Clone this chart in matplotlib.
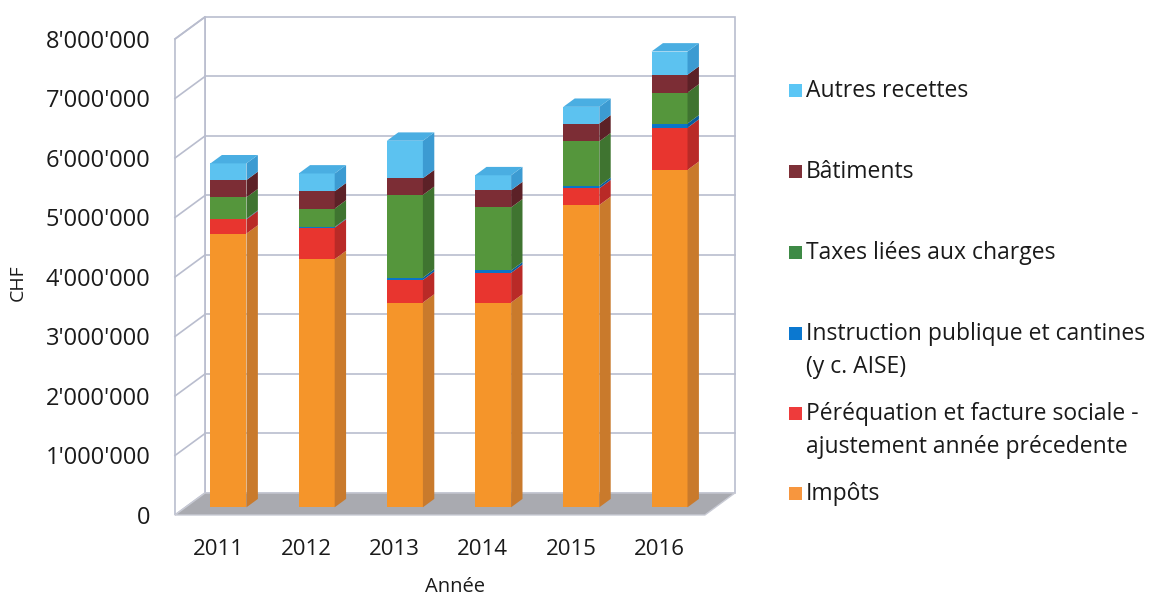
import numpy as np
import matplotlib
matplotlib.use('Agg')
import matplotlib.pyplot as plt
from matplotlib.patches import Polygon, Rectangle

plt.rcParams['font.family'] = ['Open Sans', 'DejaVu Sans']

years = ['2011', '2012', '2013', '2014', '2015', '2016']
series = ['Impôts',
          'Péréquation et facture sociale -\najustement année précedente',
          'Instruction publique et cantines\n(y c. AISE)',
          'Taxes liées aux charges',
          'Bâtiments',
          'Autres recettes']
impots = [4600000, 4170000, 3440000, 3440000, 5080000, 5670000]
perequation = [240000, 530000, 380000, 500000, 280000, 710000]
instruction = [10000, 10000, 40000, 40000, 40000, 70000]
taxes = [360000, 310000, 1390000, 1060000, 750000, 520000]
batiments = [290000, 290000, 280000, 290000, 300000, 300000]
autres = [280000, 300000, 630000, 250000, 280000, 390000]
yticks = [0, 1000000, 2000000, 3000000, 4000000, 5000000, 6000000, 7000000, 8000000]

# front / side / top colours per series
front_cols = ['#F5952A', '#E8352F', '#0A74C8', '#55963C', '#7C2D35', '#5CC2F0']
side_cols = ['#C97A2C', '#B92A27', '#085C9E', '#3F7430', '#5C2127', '#3C9BD2']
top_cols = ['#F8A850', '#EE5A50', '#3590D8', '#6CA855', '#934049', '#4AAEE2']
legend_cols = ['#F7963E', '#EE3B3B', '#0B78D0', '#3E8A46', '#7E3038', '#5BC6F5']

data = np.array([impots, perequation, instruction, taxes, batiments, autres])

# fake 3d: depth vector (categories, CHF) for full depth of the box
DX = 0.34
DY = 370000
x_left = -0.4875
x_right = 5.52
y_top = 8000000
d0, d1 = 0.35, 0.73
half_w = 0.204
wall_col = '#B9BDCE'

fig = plt.figure(figsize=(11.53, 5.96), dpi=100)
ax = fig.add_axes([170 / 1153, 76 / 596, 570 / 1153, 510 / 596])
ax.set_xlim(-0.544, 5.918)
ax.set_ylim(-84000, 8487000)
for s in ax.spines.values():
    s.set_visible(False)


def P(x, v, d):
    return (x + d * DX, v + d * DY)


# walls
back = [P(x_left, 0, 1), P(x_right, 0, 1), P(x_right, y_top, 1), P(x_left, y_top, 1)]
ax.add_patch(Polygon(back, closed=True, fc='white', ec=wall_col, lw=1.2, zorder=1))
left = [P(x_left, 0, 0), P(x_left, 0, 1), P(x_left, y_top, 1), P(x_left, y_top, 0)]
ax.add_patch(Polygon(left, closed=True, fc='white', ec=wall_col, lw=1.2, zorder=1))
for v in yticks[1:-1]:
    a, b = P(x_left, v, 1), P(x_right, v, 1)
    ax.plot([a[0], b[0]], [a[1], b[1]], color=wall_col, lw=1.2, zorder=1.5)
for v in yticks[1:]:
    a, b = P(x_left, v, 0), P(x_left, v, 1)
    ax.plot([a[0], b[0]], [a[1], b[1]], color=wall_col, lw=1.2, zorder=1.5)

# floor
floor = [P(x_left, 0, 0), P(x_right, 0, 0), P(x_right, 0, 1), P(x_left, 0, 1)]
ax.add_patch(Polygon(floor, closed=True, fc='#A9AAB0', ec='#C8CAD4', lw=1.0, zorder=2))

# bars
xs = np.arange(len(years))
bottoms = np.zeros(len(years))
for k in range(len(series)):
    vals = data[k]
    fx = xs + d0 * DX
    ax.bar(fx, vals, width=2 * half_w, bottom=bottoms + d0 * DY,
           color=front_cols[k], edgecolor='none', zorder=4)
    for i in range(len(years)):
        b0, b1 = bottoms[i], bottoms[i] + vals[i]
        xr = xs[i] + half_w
        side = [P(xr, b0, d0), P(xr, b0, d1), P(xr, b1, d1), P(xr, b1, d0)]
        ax.add_patch(Polygon(side, closed=True, fc=side_cols[k], ec='none', zorder=4))
        if k == len(series) - 1:
            xl = xs[i] - half_w
            top = [P(xl, b1, d0), P(xr, b1, d0), P(xr, b1, d1), P(xl, b1, d1)]
            ax.add_patch(Polygon(top, closed=True, fc=top_cols[k], ec='none', zorder=4))
    bottoms = bottoms + vals

ax.set_yticks(yticks)
ax.set_yticklabels([f"{v:,}".replace(',', "'") for v in yticks])
ax.set_xticks(xs)
ax.set_xticklabels(years)
ax.tick_params(axis='y', length=0, pad=14, labelsize=17, labelcolor='#1A1A1A')
ax.tick_params(axis='x', length=0, pad=14, labelsize=16, labelcolor='#1A1A1A')
ax.set_xlabel('Année', fontsize=14.5, color='#1A1A1A', labelpad=12)
fig.text(18 / 1153, 1 - 283 / 596, 'CHF', rotation=90, fontsize=14,
         color='#1A1A1A', ha='center', va='center')

# legend, drawn top to bottom
leg_y = [92, 173, 254, 335, 415, 495]
order = list(range(len(series)))[::-1]
for y, k in zip(leg_y, order):
    fig.patches.append(Rectangle((789 / 1153, 1 - (y + 5) / 596), 13 / 1153, 13 / 596,
                                 transform=fig.transFigure, fc=legend_cols[k], ec='none'))
    fig.text(806 / 1153, 1 - (y - 13) / 596, series[k], fontsize=16.5, color='#1A1A1A',
             ha='left', va='top', linespacing=1.5)

fig.savefig('out.png', dpi=100)
